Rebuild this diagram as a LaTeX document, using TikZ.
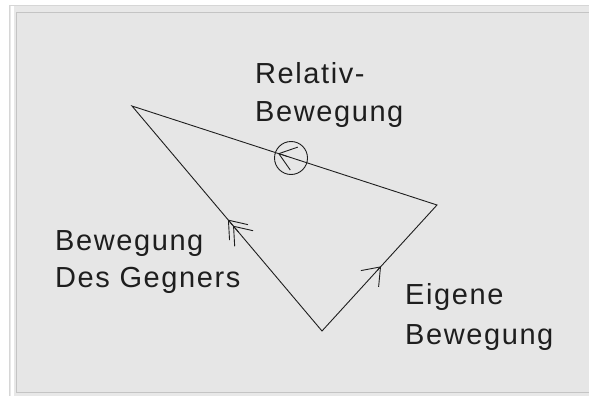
\documentclass[tikz,border=0pt]{standalone}
\usepackage{fontspec}
\setmainfont[LetterSpace=5.5]{Liberation Sans}
\usetikzlibrary{arrows.meta,calc}
\definecolor{hintergrund}{RGB}{230,230,230}
\definecolor{rahmen}{RGB}{196,196,196}
\definecolor{strich}{RGB}{30,30,30}

\begin{document}
\begin{tikzpicture}[x=1pt,y=-1pt,
 linie/.style={line width=0.9pt,draw=strich},
 pfeil/.style={line width=0.9pt,draw=strich,-{Straight Barb[angle=74:20pt]}},
 schrift/.style={anchor=base west,inner sep=0pt,text=strich,font=\fontsize{29}{35}\selectfont}]
 \useasboundingbox (0,0) rectangle (589,396);
 \fill[white] (0,0) rectangle (589,396); %Hintergrund
 \draw[rahmen!70,fill=hintergrund!90!white] (9.5,5.5) rectangle (600,400);
 \fill[white] (10.5,6.5) rectangle (13.5,400);
 \draw[rahmen,fill=hintergrund] (16.5,12.5) rectangle (600,392); %Rahmen
 \coordinate (A) at (132,106); %Spitze links oben
 \coordinate (B) at (437,205); %Spitze rechts
 \coordinate (C) at (322,331); %Spitze unten
 \draw[linie] (A)--(B)--(C)--cycle; %Dreieck
 \draw[pfeil] ($(C)!0.44!(A)$)--($(C)!0.468!(A)$); %Gegner
 \draw[pfeil] ($(C)!0.47!(A)$)--($(C)!0.495!(A)$);
 \draw[pfeil] ($(C)!0.48!(B)$)--($(C)!0.513!(B)$); %eigene
 \node[draw=strich,line width=0.9pt,circle,minimum size=33pt,inner sep=0pt] (K) at (291,158) {}; %Kreis
 \draw[pfeil] ($(B)!0.49!(A)$)--($(B)!0.521!(A)$); %relativ
 \node[schrift] (R1) at (255,83) {Relativ-};
 \node[schrift] (R2) at (255,121.7) {Bewegung};
 \node[schrift] (G1) at (55,250) {Bewegung};
 \node[schrift] (G2) at (55,287) {Des Gegners};
 \node[schrift] (E1) at (405,304) {Eigene};
 \node[schrift] (E2) at (405,344) {Bewegung};
\end{tikzpicture}
\end{document}
